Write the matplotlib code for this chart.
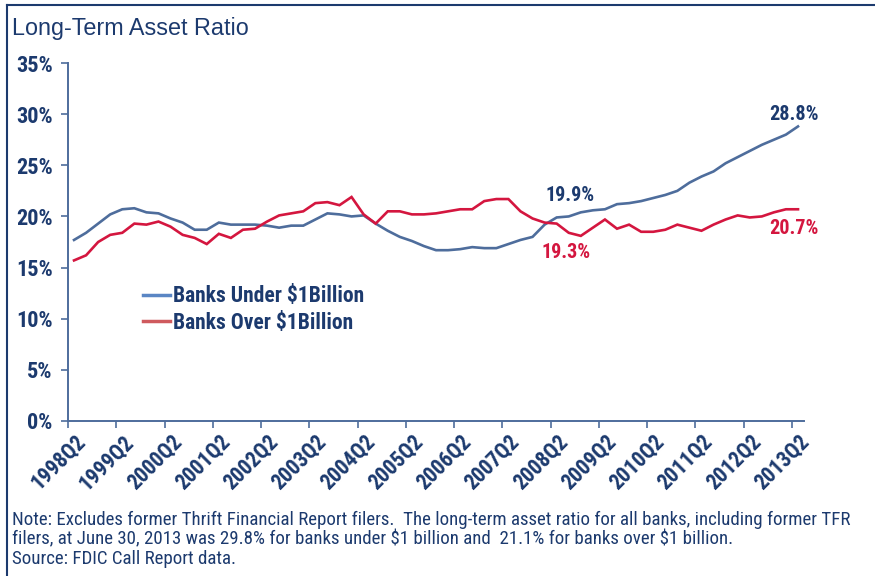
import matplotlib.pyplot as plt
import numpy as np
from matplotlib.lines import Line2D

# quarterly data 1998Q2 - 2013Q2
quarters = [f'{y}Q{q}' for y in range(1998, 2014) for q in (1, 2, 3, 4)][1:62]

under_1b = [17.7, 18.4, 19.3, 20.2, 20.7, 20.8, 20.4, 20.3, 19.8, 19.4,
            18.7, 18.7, 19.4, 19.2, 19.2, 19.2, 19.1, 18.9, 19.1, 19.1,
            19.7, 20.3, 20.2, 20.0, 20.1, 19.3, 18.6, 18.0, 17.6, 17.1,
            16.7, 16.7, 16.8, 17.0, 16.9, 16.9, 17.3, 17.7, 18.0, 19.2,
            19.9, 20.0, 20.4, 20.6, 20.7, 21.2, 21.3, 21.5, 21.8, 22.1,
            22.5, 23.3, 23.9, 24.4, 25.2, 25.8, 26.4, 27.0, 27.5, 28.0,
            28.8]
over_1b = [15.7, 16.2, 17.5, 18.2, 18.4, 19.3, 19.2, 19.5, 19.0, 18.2,
           17.9, 17.3, 18.3, 17.9, 18.7, 18.8, 19.5, 20.1, 20.3, 20.5,
           21.3, 21.4, 21.1, 21.9, 20.2, 19.3, 20.5, 20.5, 20.2, 20.2,
           20.3, 20.5, 20.7, 20.7, 21.5, 21.7, 21.7, 20.5, 19.8, 19.4,
           19.3, 18.4, 18.1, 18.9, 19.7, 18.8, 19.2, 18.5, 18.5, 18.7,
           19.2, 18.9, 18.6, 19.2, 19.7, 20.1, 19.9, 20.0, 20.4, 20.7,
           20.7]

navy = '#1c3a6e'
blue = '#4e6d9c'
red = '#d4163f'
cond = ['Roboto Condensed', 'Liberation Sans', 'DejaVu Sans']

fig = plt.figure(figsize=(8.75, 5.76), dpi=100)
ax = fig.add_axes([0.0777, 0.2691, 0.8412, 0.6215])

x = np.arange(len(quarters))
ax.plot(x, under_1b, color=blue, lw=1.9, solid_joinstyle='miter')
ax.plot(x, over_1b, color=red, lw=1.9, solid_joinstyle='miter')

ax.set_ylim(0, 35)
ax.set_xlim(-0.5, len(quarters) - 0.5)

# y axis
ax.set_yticks(range(0, 36, 5))
ax.set_yticklabels([f'{v}%' for v in range(0, 36, 5)], fontsize=16,
                   fontweight='bold', color=navy, family=cond)
ax.tick_params(axis='y', length=5, width=1.2, color=blue, pad=6)

# x axis: ticks between categories, labels on the category
lab_idx = [i for i, q in enumerate(quarters) if q.endswith('Q2')]
ax.set_xticks([i - 0.5 for i in lab_idx])
ax.set_xticklabels([])
ax.tick_params(axis='x', which='major', length=5, width=1.2, color=blue)
ax.set_xticks(lab_idx, minor=True)
ax.set_xticklabels([quarters[i] for i in lab_idx], minor=True, rotation=45,
                   ha='right', rotation_mode='anchor', fontsize=15.5,
                   fontweight='bold', color=navy, family=cond)
ax.tick_params(axis='x', which='minor', length=0, pad=7)

for s in ['top', 'right']:
    ax.spines[s].set_visible(False)
for s in ['left', 'bottom']:
    ax.spines[s].set_color(blue)
    ax.spines[s].set_linewidth(1.4)

# value labels
lab = dict(fontsize=14.5, fontweight='bold', family=cond, ha='center', va='center')
ax.text(59.7, 29.95, '28.8%', color=navy, **lab)
ax.text(41.1, 22.0, '19.9%', color=navy, **lab)
ax.text(40.8, 16.5, '19.3%', color=red, **lab)
ax.text(59.7, 18.8, '20.7%', color=red, **lab)

handles = [Line2D([], [], color='#5a86c4', lw=2.5),
           Line2D([], [], color='#cf5a5e', lw=2.5)]
leg = ax.legend(handles, [r'Banks Under \$1Billion', r'Banks Over \$1Billion'],
                loc='upper left', bbox_to_anchor=(0.163, 0.505),
                bbox_transform=fig.transFigure, frameon=False, borderpad=0,
                borderaxespad=0, handlelength=1.25, handletextpad=0.15,
                labelspacing=0.22, prop={'family': cond, 'weight': 'bold', 'size': 15.5})
for t in leg.get_texts():
    t.set_color(navy)

fig.text(12 / 875, 1 - 28 / 576, 'Long-Term Asset Ratio', fontsize=16.8,
         color=navy, family=['Liberation Sans', 'DejaVu Sans'], va='center')

note = ('Note: Excludes former Thrift Financial Report filers.  The long-term asset ratio for all banks, including former TFR\n'
        r'filers, at June 30, 2013 was 29.8% for banks under \$1 billion and  21.1% for banks over \$1 billion.' '\n'
        'Source: FDIC Call Report data.')
fig.text(12 / 875, 1 - 511 / 576, note, fontsize=13.6, color=navy, family=cond,
         va='top', linespacing=1.1)

# frame lines at top and left
fig.add_artist(Line2D([7 / 875, 1], [1 - 5 / 576, 1 - 5 / 576], color=navy, lw=1.5,
                      transform=fig.transFigure))
fig.add_artist(Line2D([7 / 875, 7 / 875], [0, 1 - 5 / 576], color=navy, lw=1.5,
                      transform=fig.transFigure))

fig.savefig('out.png', dpi=100)
